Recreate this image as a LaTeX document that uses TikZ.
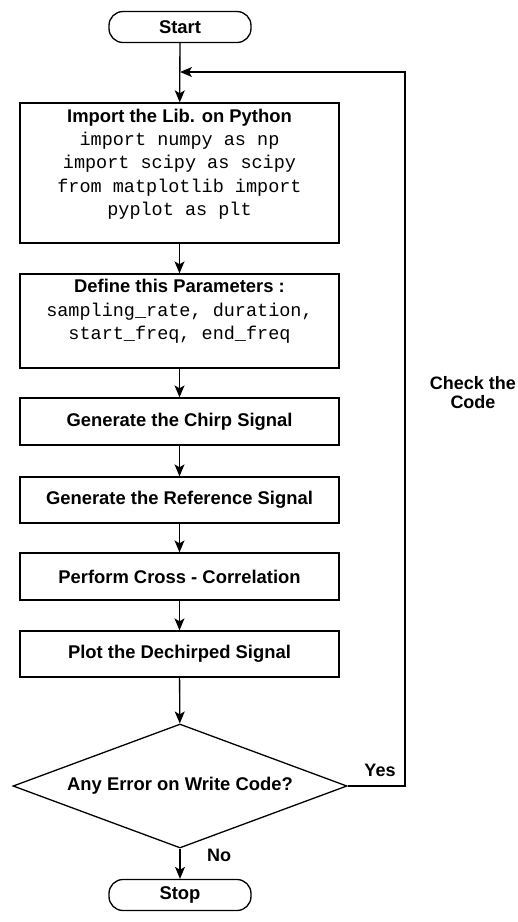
\documentclass[tikz,border=0pt]{standalone}
\usepackage{fontspec}
\setmainfont{Liberation Sans}
\setmonofont{Liberation Mono}
\usetikzlibrary{arrows.meta,shapes.geometric}
\tikzset{
  flow/.style={draw=black, line width=1.3pt, fill=white, inner sep=0pt, align=center,
    font=\bfseries\fontsize{18.4}{23.3}\selectfont},
  procbox/.style={flow, rectangle, minimum width=319pt},
  termbox/.style={flow, rectangle, rounded corners=14pt, minimum width=142pt, minimum height=31pt},
  decbox/.style={flow, diamond, aspect=2.7, minimum width=334pt, minimum height=124pt},
  intext/.style={inner sep=0pt, align=center, font=\bfseries\fontsize{18.4}{23.3}\selectfont},
  conn/.style={draw=black, line width=1.3pt, -{Stealth[length=12pt,width=10pt,inset=3pt]}},
  lbl/.style={font=\bfseries\fontsize{18}{19}\selectfont, align=center, inner sep=0pt},
}
\newcommand{\mycode}[1]{{\mdseries\ttfamily\fontsize{18.5}{23.3}\selectfont #1}}
\begin{document}
\begin{tikzpicture}[x=1pt,y=-1pt]
\useasboundingbox (0,0) rectangle (518,922);
\node[termbox] (start) at (180,27) {Start};
\node[procbox, minimum height=140pt] (imp) at (179.5,173) {};
\node[intext] (imptxt) at (179.5,164)
  {Import the Lib. on Python\\ \mycode{import numpy as np}\\ \mycode{import scipy as scipy}\\ \mycode{from matplotlib import}\\ \mycode{pyplot as plt}};
\node[procbox, minimum height=94pt] (def) at (179.5,321) {};
\node[intext] (deftxt) at (179.5,311.5)
  {Define this Parameters :\\ \mycode{sampling\_rate, duration,}\\ \mycode{start\_freq, end\_freq}};
\node[procbox, minimum height=47pt] (chirp) at (179.5,421.5) {Generate the Chirp Signal};
\node[procbox, minimum height=46pt] (ref) at (179.5,500) {Generate the Reference Signal};
\node[procbox, minimum height=47pt] (cross) at (179.5,576.5) {Perform Cross - Correlation};
\node[procbox, minimum height=46pt] (plot) at (179.5,654) {Plot the Dechirped Signal};
\node[decbox] (dec) at (180,786) {Any Error on Write Code?};
\node[termbox] (stop) at (180,895) {Stop};

\coordinate (c1) at (405,786);
\coordinate (c2) at (405,72);
\coordinate (j) at (180,72);

\draw[conn] (start) -- (imp);
\draw[conn] (imp) -- (def);
\draw[conn] (def) -- (chirp);
\draw[conn] (chirp) -- (ref);
\draw[conn] (ref) -- (cross);
\draw[conn] (cross) -- (plot);
\draw[conn] (plot) -- (dec);
\draw[conn] (dec) -- (stop);
\draw[conn] (dec.east) -- (c1) -- (c2) -- (j);

\node[lbl] (yes) at (380,770) {Yes};
\node[lbl] (no) at (219,855) {No};
\node[lbl] (check) at (473,393) {Check the\\Code};
\end{tikzpicture}
\end{document}
